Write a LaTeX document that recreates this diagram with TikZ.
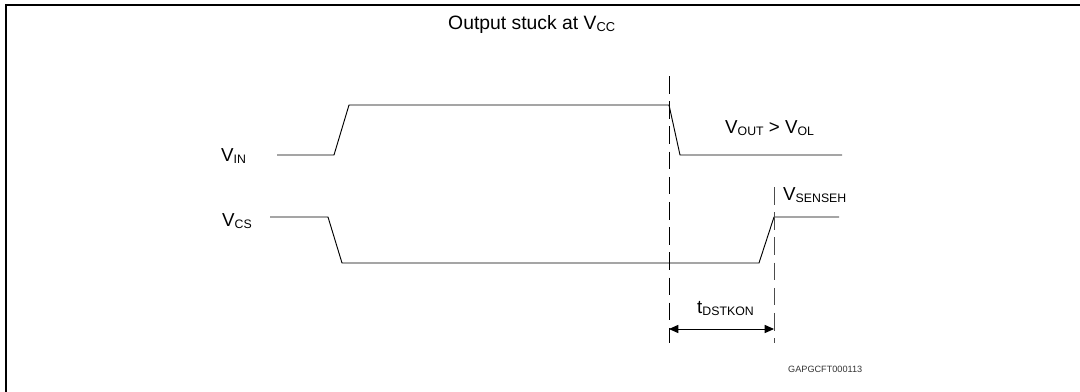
\documentclass[tikz,border=0pt]{standalone}
\usepackage{fontspec}
\setmainfont{Liberation Sans}
\usetikzlibrary{arrows.meta,positioning}
\newcommand{\sigsub}[2][10.5]{\raisebox{-2.5pt}{\fontsize{#1}{#1}\selectfont #2}}

\begin{document}
\begin{tikzpicture}[x=0.03cm,y=-0.03cm,
    wave/.style={line width=0.8pt},
    lbl/.style={anchor=base west,inner sep=0pt,font=\fontsize{16}{18}\selectfont},
    guide/.style={line width=0.8pt,dash pattern=on 15pt off 6.5pt}]
  \useasboundingbox (0,0) rectangle (1080,392);

  % frame
  \draw[line width=1.7pt] (6,392) -- (6,5) -- (1080,5);

  \node[anchor=base west,inner sep=0pt,font=\fontsize{16.5}{18}\selectfont] (title) at (448,29)
    {Output stuck at V\sigsub[11]{CC}};

  % input and current sense
  \draw[wave] (277,155) -- (334,155) -- (349,105) -- (669,105) -- (680,155) -- (842,155);
  \draw[wave] (270,217) -- (328,217) -- (342,263) -- (759,263) -- (774,217) -- (839,217);

  \node[lbl] (vin) at (221,161) {V\sigsub{IN}};
  \node[lbl] (vcs) at (222,226) {V\sigsub{CS}};
  \node[lbl] (vout) at (725,133) {V\sigsub{OUT} > V\sigsub{OL}};
  \node[lbl] (vsense) at (783,200) {V\sigsub{SENSEH}};

  % timing marks
  \coordinate (stuck top) at (669,76);
  \coordinate (stuck bot) at (669,343);
  \coordinate (sense top) at (774,187);
  \coordinate (sense bot) at (774,343);
  \draw[guide] (stuck top) -- (stuck bot);
  \draw[guide,color=black!70] (sense top) -- (sense bot);

  \coordinate (tA) at (669,329);
  \coordinate (tB) at (774,329);
  \draw[line width=0.8pt,{Triangle[length=8pt,width=7pt]}-{Triangle[length=8pt,width=7pt]}] (tA) -- (tB);
  \node[lbl] (tdst) at (697,313) {t\sigsub{DSTKON}};

  \node[anchor=base west,inner sep=0pt,font=\fontsize{7.8}{9}\selectfont,text=black!80] (code) at (788,372) {GAPGCFT000113};
\end{tikzpicture}
\end{document}
